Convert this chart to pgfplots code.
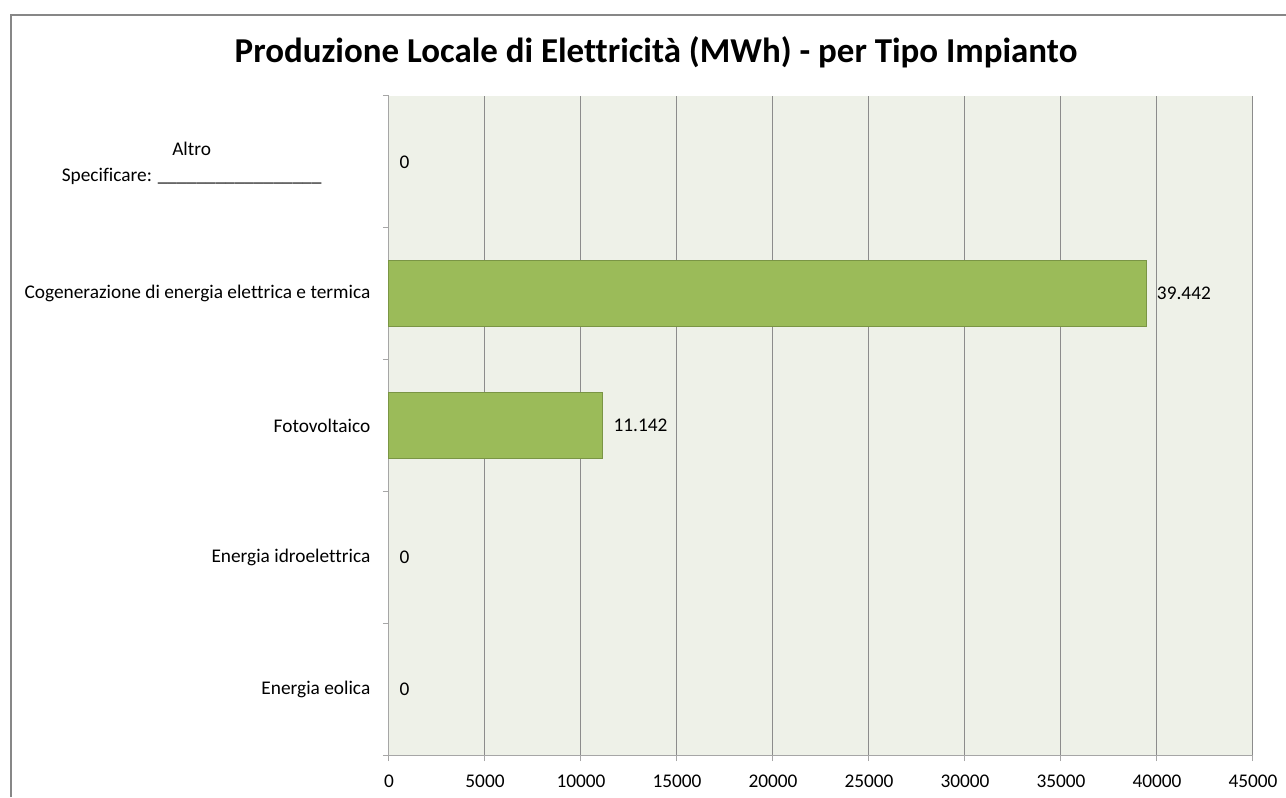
\documentclass[border=0pt]{standalone}
\usepackage{pgfplots}
\pgfplotsset{compat=1.18}
\usepackage{fontspec}
\setmainfont{Carlito}[Ligatures=NoCommon]
\definecolor{plotbg}{HTML}{EEF1E8}
\definecolor{barfill}{HTML}{9BBB59}
\definecolor{baredge}{HTML}{7A9545}
\definecolor{gridc}{HTML}{8C8C8C}
\definecolor{axisc}{HTML}{A6A6A6}
\definecolor{framec}{HTML}{878787}
\begin{document}
\begin{tikzpicture}
\useasboundingbox (0,0) rectangle (964.5pt,597.75pt);
\fill[white] (0,0) rectangle (964.5pt,597.75pt);
\draw[framec, line width=1.5pt] (8.25pt,0) -- (8.25pt,586.5pt) -- (964.5pt,586.5pt);
\node[font=\fontsize{26.2}{30}\selectfont\bfseries] at (492pt,558.75pt) {Produzione Locale di Elettricità (MWh) - per Tipo Impianto};
\begin{axis}[
  at={(291.75pt,31.5pt)}, anchor=south west,
  scale only axis, width=648pt, height=494.25pt,
  xbar, bar width=49.5pt, bar shift=0pt,
  xmin=0, xmax=45000, ymin=0.5, ymax=5.5,
  axis background/.style={fill=plotbg},
  axis x line*=bottom, axis y line*=left,
  axis line style={axisc, line width=0.75pt, -},
  xtick={0,5000,...,45000},
  scaled x ticks=false,
  xticklabel={\pgfmathprintnumber[fixed, 1000 sep={}]{\tick}},
  xticklabel style={yshift=-7pt},
  xmajorgrids, grid style={gridc, line width=0.75pt},
  ytick={1,2,3,4,5},
  yticklabels={Energia eolica, Energia idroelettrica, Fotovoltaico, Cogenerazione di energia elettrica e termica, {}},
  yticklabel style={xshift=-6pt},
  minor ytick={0.5,1.5,...,5.5},
  every major y tick/.style={draw=none},
  every minor y tick/.style={draw=axisc, line width=0.75pt},
  every major x tick/.style={draw=axisc, line width=0.75pt},
  major tick length=4.5pt, minor tick length=4.5pt,
  tick align=outside,
  ticklabel style={font=\fontsize{14.5}{17}\selectfont},
  /pgf/number format/assume math mode=true,
  clip=false,
]
\addplot[fill=barfill, draw=baredge, line width=0.75pt] coordinates {(11142,3) (39442,4)};
\addplot[draw=none, fill=none, nodes near coords,
  nodes near coords style={font=\fontsize{14.5}{17}\selectfont, anchor=west, xshift=4.5pt, /pgf/number format/fixed, /pgf/number format/1000 sep={.}}]
  coordinates {(0,1) (0,2) (11142,3) (39442,4) (0,5)};
\node[align=center, font=\fontsize{14.5}{19.5}\selectfont] at (rel axis cs:0,0.9) [xshift=-148pt, yshift=-1pt] {Altro\\Specificare: \_\_\_\_\_\_\_\_\_\_\_\_\_\_\_\_\_};
\end{axis}
\end{tikzpicture}
\end{document}
